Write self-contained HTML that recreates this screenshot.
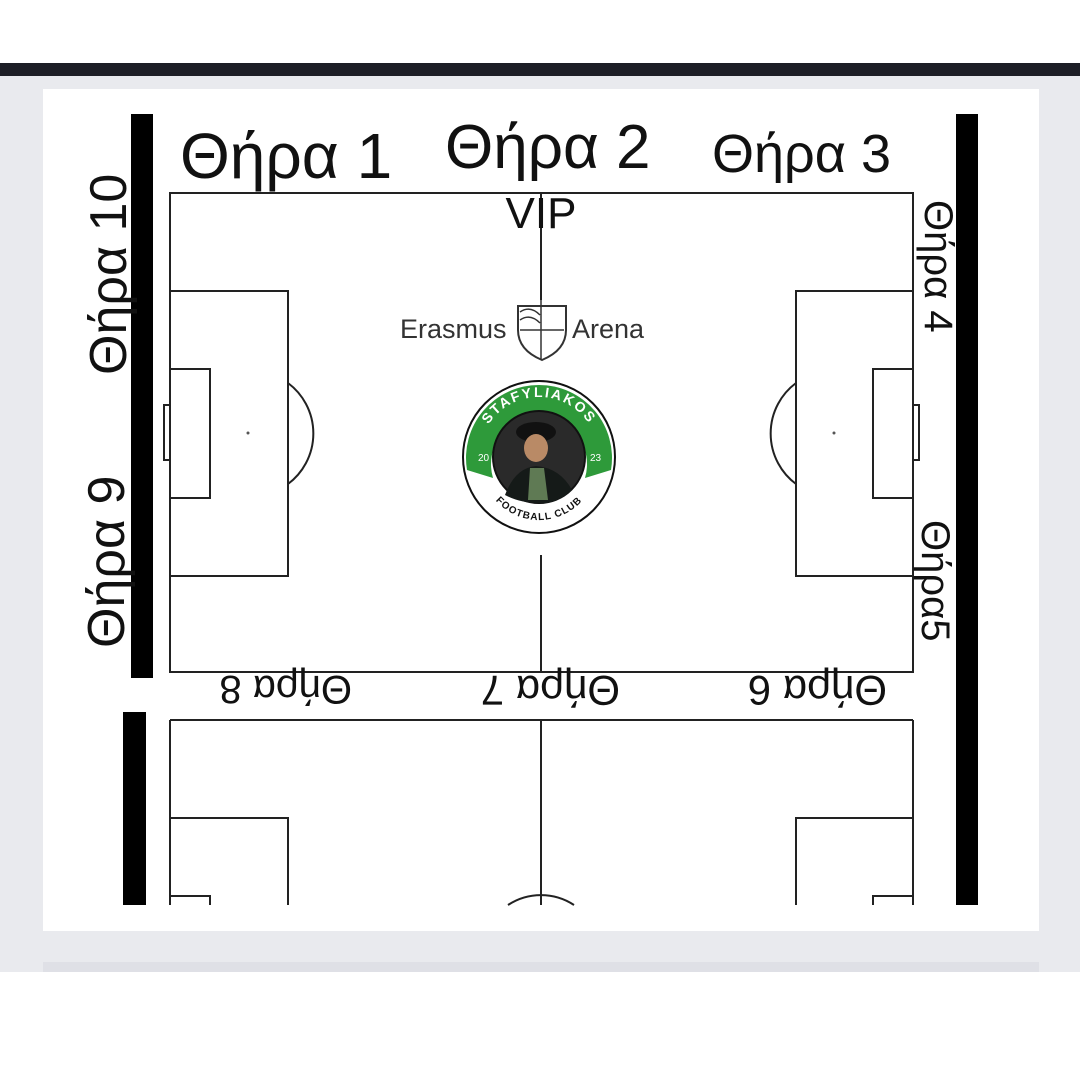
<!DOCTYPE html>
<html><head><meta charset="utf-8"><style>
html,body{margin:0;padding:0;width:1080px;height:1080px;background:#fff;overflow:hidden}
svg{display:block}
text{font-family:"Liberation Sans","DejaVu Sans",sans-serif}
</style></head><body>
<svg width="1080" height="1080" viewBox="0 0 1080 1080" xmlns="http://www.w3.org/2000/svg" xmlns:xlink="http://www.w3.org/1999/xlink">
<defs>
<path id="arc" d="M479 457 A60 60 0 0 1 599 457" fill="none"/>
<path id="arc2" d="M481 462 A58 58 0 0 0 597 462" fill="none"/>
</defs>
<rect x="0" y="0" width="1080" height="1080" fill="#fff"/>
<rect x="0" y="76" width="1080" height="896" fill="#e9eaee"/>
<rect x="0" y="63" width="1080" height="13" fill="#1d1e26"/>
<rect x="43" y="89" width="996" height="842" fill="#fff"/>
<rect x="43" y="962" width="996" height="10" fill="#dfe0e6"/>
<rect x="131" y="114" width="22" height="564" fill="#000"/>
<rect x="123" y="712" width="23" height="193" fill="#000"/>
<rect x="956" y="114" width="22" height="791" fill="#000"/>
<g fill="none" stroke="#222" stroke-width="2">
<rect x="170" y="193" width="743" height="479"/>
<line x1="541" y1="193" x2="541" y2="300"/>
<line x1="541" y1="555" x2="541" y2="672"/>
<rect x="170" y="291" width="118" height="285"/>
<rect x="170" y="369" width="40" height="129"/>
<rect x="164" y="405" width="6" height="55"/>
<path d="M288 383 A63 63 0 0 1 288 484"/>
<rect x="796" y="291" width="117" height="285"/>
<rect x="873" y="369" width="40" height="129"/>
<rect x="913" y="405" width="6" height="55"/>
<path d="M796 383 A63 63 0 0 0 796 484"/>
<path d="M170 720 H913 M170 720 V905 M913 720 V905 M541 720 V905"/>
<path d="M170 818 H288 V905 M913 818 H796 V905 M170 896 H210 V905 M913 896 H873 V905"/>
<path d="M508 905 A60 60 0 0 1 574 905"/>
</g>
<circle cx="248" cy="433" r="1.5" fill="#555"/>
<circle cx="834" cy="433" r="1.5" fill="#555"/>
<g fill="#111">
<text x="180" y="178" font-size="64">Θήρα 1</text>
<text x="445" y="168" font-size="62">Θήρα 2</text>
<text x="712" y="172" font-size="54">Θήρα 3</text>
<text x="541" y="228" font-size="44" text-anchor="middle">VIP</text>
<text transform="translate(126,375) rotate(-90)" font-size="52">Θήρα 10</text>
<text transform="translate(124,648) rotate(-90)" font-size="52">Θήρα 9</text>
<text transform="translate(925,200) rotate(90)" font-size="40">Θήρα 4</text>
<text transform="translate(922,520) rotate(90)" font-size="40">Θήρα5</text>
<text transform="translate(352,676) rotate(180)" font-size="40">Θήρα 8</text>
<text transform="translate(620,676) rotate(180)" font-size="42">Θήρα 7</text>
<text transform="translate(887,676) rotate(180)" font-size="42">Θήρα 6</text>
</g>
<text x="400" y="338" font-size="27" fill="#333">Erasmus</text>
<text x="572" y="338" font-size="27" fill="#333">Arena</text>
<path d="M518 306 H566 V330 Q566 350 542 360 Q518 350 518 330 Z" fill="#fff" stroke="#333" stroke-width="2"/>
<path d="M541 300 V360 M520 330 H564 M520 312 Q530 305 540 315 M520 320 Q530 313 540 323" fill="none" stroke="#333" stroke-width="1.5"/>
<circle cx="539" cy="457" r="76" fill="#fff" stroke="#111" stroke-width="2"/>
<path d="M467 470 A73 73 0 1 1 611 470 L585 478 A48 48 0 1 0 493 478 Z" fill="#2e9a3a"/>
<circle cx="539" cy="457" r="46" fill="#2a2a2a" stroke="#111" stroke-width="2"/>
<ellipse cx="536" cy="432" rx="20" ry="10" fill="#111"/>
<ellipse cx="536" cy="448" rx="12" ry="14" fill="#b98a66"/>
<path d="M505 495 Q515 468 536 466 Q560 468 572 490 Q555 505 539 503 Q520 503 505 495Z" fill="#151a18"/>
<path d="M530 468 L544 468 L548 500 L528 500Z" fill="#5f7a54"/>
<text font-size="14" font-weight="bold" fill="#fff" text-anchor="middle" letter-spacing="2"><textPath xlink:href="#arc" href="#arc" startOffset="50%">STAFYLIAKOS</textPath></text>
<text font-size="10" font-weight="bold" fill="#111" text-anchor="middle" letter-spacing="1"><textPath xlink:href="#arc2" href="#arc2" startOffset="50%">FOOTBALL CLUB</textPath></text>
<text x="478" y="461" font-size="10" fill="#fff">20</text>
<text x="590" y="461" font-size="10" fill="#fff">23</text>
</svg>
</body></html>
